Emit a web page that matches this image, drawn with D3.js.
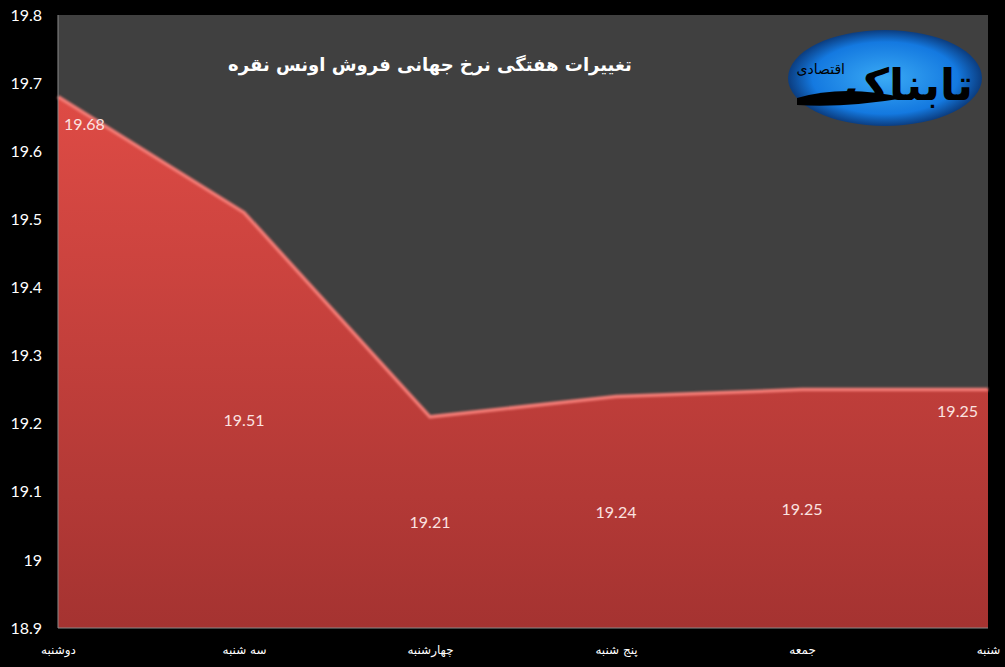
<!DOCTYPE html>
<html>
<head>
<meta charset="utf-8">
<script src="https://cdn.jsdelivr.net/npm/d3@7"></script>
<style>
  body { margin: 0; background: #000; }
  svg { display: block; }
</style>
</head>
<body>
<div id="chart"></div>
<script>
// weekly silver ounce price
var days = ["دوشنبه", "سه شنبه", "چهارشنبه", "پنج شنبه", "جمعه", "شنبه"]
var prices = [19.68, 19.51, 19.21, 19.24, 19.25, 19.25]
var yTicks = [18.9, 19, 19.1, 19.2, 19.3, 19.4, 19.5, 19.6, 19.7, 19.8]
var title = "تغییرات هفتگی نرخ جهانی فروش اونس نقره"

var W = 1005, H = 667
var plot = {left: 58, right: 988, top: 15, bottom: 628}

var svg = d3.select("#chart").append("svg")
  .attr("width", W).attr("height", H)

svg.append("rect").attr("width", W).attr("height", H).attr("fill", "#000")

var x = d3.scalePoint().domain(days).range([plot.left, plot.right])
var y = d3.scaleLinear().domain([18.9, 19.8]).range([plot.bottom, plot.top])

var defs = svg.append("defs")
var grad = defs.append("linearGradient").attr("id", "areaGrad")
  .attr("x1", 0).attr("y1", 0).attr("x2", 0).attr("y2", 1)
grad.append("stop").attr("offset", "0%").attr("stop-color", "#de4b45")
grad.append("stop").attr("offset", "100%").attr("stop-color", "#a53331")

var logoGrad = defs.append("radialGradient").attr("id", "logoGrad")
logoGrad.append("stop").attr("offset", "0%").attr("stop-color", "#3aaaf5")
logoGrad.append("stop").attr("offset", "75%").attr("stop-color", "#1479e0")
logoGrad.append("stop").attr("offset", "100%").attr("stop-color", "#0b3d80")

defs.append("filter").attr("id", "soft")
  .append("feGaussianBlur").attr("stdDeviation", 0.8)

// plot background
svg.append("rect")
  .attr("x", plot.left).attr("y", plot.top)
  .attr("width", plot.right - plot.left).attr("height", plot.bottom - plot.top)
  .attr("fill", "#404040")

// area
var area = d3.area()
  .x(function(d, i) { return x(days[i]) })
  .y0(plot.bottom)
  .y1(function(d) { return y(d) })

svg.append("path").datum(prices)
  .attr("d", area)
  .attr("fill", "url(#areaGrad)")

var line = d3.line()
  .x(function(d, i) { return x(days[i]) })
  .y(function(d) { return y(d) })

svg.append("path").datum(prices)
  .attr("d", line)
  .attr("fill", "none")
  .attr("stroke", "#f27a74")
  .attr("stroke-width", 3.5)
  .attr("filter", "url(#soft)")

// plot border (left + bottom)
svg.append("path")
  .attr("d", "M" + plot.left + "," + plot.top + "V" + plot.bottom + "H" + plot.right)
  .attr("fill", "none").attr("stroke", "#8a8a8a").attr("stroke-width", 1)

// y axis
var yAxis = svg.append("g")
  .attr("transform", "translate(" + plot.left + ",0)")
  .call(d3.axisLeft(y).tickValues(yTicks).tickSize(0).tickPadding(16)
    .tickFormat(function(d) { return d3.format("")(+d.toFixed(1)) }))
yAxis.select(".domain").remove()
yAxis.selectAll("text")
  .attr("fill", "#fff").attr("font-family", "Lato, 'Open Sans', sans-serif").attr("font-size", 16)

// x axis
var xAxis = svg.append("g")
  .attr("transform", "translate(0," + plot.bottom + ")")
  .call(d3.axisBottom(x).tickSize(0).tickPadding(17))
xAxis.select(".domain").remove()
xAxis.selectAll("text")
  .attr("fill", "#fff").attr("font-family", "'DejaVu Sans', sans-serif").attr("font-size", 12)

// value labels
var last = prices.length - 1
svg.selectAll(".val").data(prices).enter().append("text")
  .attr("class", "val")
  .attr("x", function(d, i) {
    if (i === 0) return x(days[i]) + 6
    if (i === last) return x(days[i]) - 10
    return x(days[i])
  })
  .attr("y", function(d, i) {
    if (i === 0) return y(d) + 33
    if (i === last) return y(d) + 27
    return (y(d) + plot.bottom) / 2 + 6
  })
  .attr("text-anchor", function(d, i) { return i === 0 ? "start" : i === last ? "end" : "middle" })
  .attr("fill", "#fbe3e0")
  .attr("font-family", "Lato, 'Open Sans', sans-serif")
  .attr("font-size", 16)
  .text(function(d) { return d3.format(".2f")(d) })

// title
svg.append("text")
  .attr("x", 430).attr("y", 71)
  .attr("text-anchor", "middle")
  .attr("fill", "#fff")
  .attr("font-family", "'DejaVu Sans', sans-serif")
  .attr("font-weight", "bold")
  .attr("font-size", 18)
  .text(title)

// logo
var logo = svg.append("g").attr("transform", "translate(885,78)")
logo.append("ellipse").attr("rx", 97).attr("ry", 48).attr("fill", "url(#logoGrad)")
logo.append("path")
  .attr("d", "M-88,20 Q-40,6 20,20 Q-40,30 -88,27 Z")
  .attr("fill", "#000")
logo.append("text")
  .attr("x", 88).attr("y", 22)
  .attr("text-anchor", "end")
  .attr("font-family", "'DejaVu Sans', sans-serif").attr("font-weight", "bold")
  .attr("font-size", 44).attr("fill", "#000")
  .text("تابناک")
logo.append("text")
  .attr("x", -40).attr("y", -4)
  .attr("text-anchor", "end")
  .attr("font-family", "'DejaVu Sans', sans-serif")
  .attr("font-size", 14).attr("fill", "#000")
  .text("اقتصادی")
</script>
</body>
</html>
